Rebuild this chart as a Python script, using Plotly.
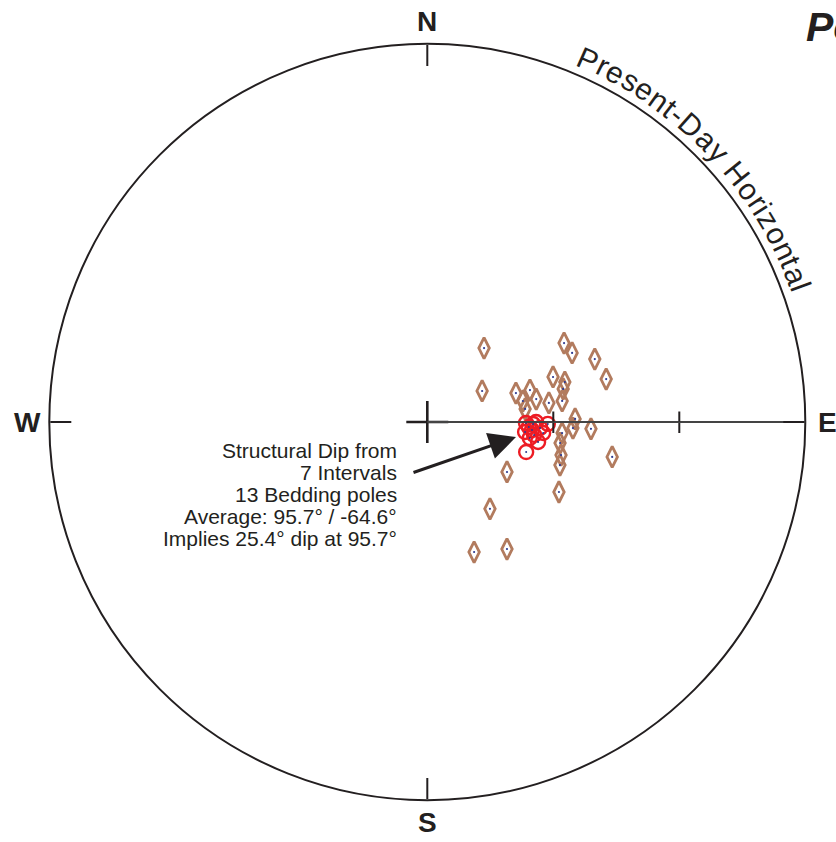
import math
import plotly.graph_objects as go

# ---------------- data ----------------
# Bedding poles (brown diamonds): azimuth (deg clockwise from N), inclination (deg, negative = up)
pole_az = [37.5, 60.5, 60.0, 64.5, 69.4, 76.5, 70.3, 73.8, 76.3, 81.1, 81.1, 71.9, 72.7,
           78.1, 77.6, 82.4, 88.8, 92.4, 92.4, 94.7, 99.0, 103.9, 108.0, 100.7, 122.1,
           118.0, 144.2, 160.2, 147.9]
pole_inc = [-67.8, -75.0, -52.4, -51.8, -47.4, -46.2, -58.2, -55.9, -56.7, -57.5, -60.7,
            -67.8, -64.4, -63.5, -66.7, -66.5, -54.8, -55.3, -51.0, -57.8, -58.0, -57.2,
            -56.8, -45.2, -67.6, -54.5, -64.5, -57.1, -54.3]

# Structural dip interval poles (red circles)
interval_az = [90.6, 90.0, 90.9, 95.8, 94.4, 93.0, 98.9, 100.2, 106.9, 96.9, 92.8, 95.4, 91.1]
interval_inc = [-66.5, -64.1, -61.3, -66.6, -65.0, -63.1, -65.3, -63.2, -65.4, -64.4, -65.8,
                -62.3, -64.8]

compass_labels = ["N", "E", "S", "W"]
compass_az = [0, 90, 180, 270]
radial_ticks = [30, 60]

note_lines = ["Structural Dip from", "7 Intervals", "13 Bedding poles",
              "Average: 95.7\u00b0 / -64.6\u00b0", "Implies 25.4\u00b0 dip at 95.7\u00b0"]
arc_label = "Present-Day Horizontal"
title_text = "Poles"

# ---------------- geometry ----------------
W, H = 836, 842
CX, CY, R = 427.3, 422.0, 378.0
FONT = "Liberation Sans, Arial, Helvetica, sans-serif"
INK = "#231f20"


def px(x):
    return x / W


def py(y):
    return 1 - y / H


def colat(inc):
    return [90 - abs(v) for v in inc]


DIAMOND = "#b27b5e"
RED = "#ed1c24"
DOT = "#2b3990"

fig = go.Figure()

# centre cross
fig.add_trace(go.Scatterpolar(r=[0], theta=[0], mode="markers", subplot="polar",
                              marker=dict(symbol="cross-thin-open", size=30, color=INK,
                                          line=dict(color=INK, width=2.6)),
                              hoverinfo="skip", showlegend=False))
# bedding poles
fig.add_trace(go.Scatterpolar(r=colat(pole_inc), theta=pole_az, mode="markers", subplot="polar",
                              marker=dict(symbol="diamond-tall-open", size=15, color=DIAMOND,
                                          line=dict(color=DIAMOND, width=2.8)),
                              showlegend=False))
fig.add_trace(go.Scatterpolar(r=colat(pole_inc), theta=pole_az, mode="markers", subplot="polar",
                              marker=dict(symbol="circle", size=2.2, color=DOT,
                                          line=dict(width=0)),
                              hoverinfo="skip", showlegend=False))
# interval poles
fig.add_trace(go.Scatterpolar(r=colat(interval_inc), theta=interval_az, mode="markers",
                              subplot="polar",
                              marker=dict(symbol="circle-open", size=14, color=RED,
                                          line=dict(color=RED, width=2.4)),
                              showlegend=False))
fig.add_trace(go.Scatterpolar(r=colat(interval_inc), theta=interval_az, mode="markers",
                              subplot="polar",
                              marker=dict(symbol="circle", size=2, color=DOT,
                                          line=dict(width=0)),
                              hoverinfo="skip", showlegend=False))
# dummy on second polar (ticks on the other side of the E axis)
fig.add_trace(go.Scatterpolar(r=[0], theta=[0], mode="markers", subplot="polar2",
                              marker=dict(size=1, color="rgba(0,0,0,0)"),
                              hoverinfo="skip", showlegend=False))

dom_x = [px(CX - R), px(CX + R)]
dom_y = [py(CY + R), py(CY - R)]

radial_common = dict(range=[0, 90], angle=0, showgrid=False, tickvals=radial_ticks,
                     ticks="outside", ticklen=10, tickwidth=2, tickcolor=INK,
                     showticklabels=False)

fig.update_layout(
    width=W, height=H, margin=dict(l=0, r=0, t=0, b=0),
    paper_bgcolor="white", plot_bgcolor="white", showlegend=False,
    polar=dict(
        domain=dict(x=dom_x, y=dom_y), bgcolor="white",
        angularaxis=dict(rotation=90, direction="clockwise", showgrid=False,
                         showline=True, linecolor=INK, linewidth=2,
                         tickvals=compass_az, ticks="inside", ticklen=21, tickwidth=2,
                         tickcolor=INK, showticklabels=False),
        radialaxis=dict(showline=True, linecolor="#444444", linewidth=2, side="clockwise",
                        **radial_common),
    ),
    polar2=dict(
        domain=dict(x=dom_x, y=dom_y), bgcolor="rgba(0,0,0,0)",
        angularaxis=dict(rotation=90, direction="clockwise", visible=False),
        radialaxis=dict(showline=False, side="counterclockwise", **radial_common),
    ),
)

ann = []
# compass letters
for lab, az in zip(compass_labels, compass_az):
    rr = 400
    x = CX + rr * math.sin(math.radians(az))
    y = CY - rr * math.cos(math.radians(az))
    ann.append(dict(x=px(x), y=py(y), xref="paper", yref="paper", text="<b>%s</b>" % lab,
                    showarrow=False, xanchor="center", yanchor="middle",
                    font=dict(family=FONT, size=28, color=INK)))

# curved label along the circle
cw = {"P": .667, "r": .333, "e": .556, "s": .5, "n": .556, "t": .278, "-": .333, "D": .722,
      "a": .556, "y": .5, " ": .278, "H": .722, "o": .556, "i": .222, "z": .5, "l": .222}
centres, acc = [], 0.0
for ch in arc_label:
    w = cw.get(ch, .55)
    centres.append(acc + w / 2)
    acc += w
th0, th1, RT = 23.9, 70.1, 397.0
for ch, c in zip(arc_label, centres):
    if ch == " ":
        continue
    th = th0 + (c - centres[0]) / (centres[-1] - centres[0]) * (th1 - th0)
    x = CX + RT * math.sin(math.radians(th))
    y = CY - RT * math.cos(math.radians(th))
    ann.append(dict(x=px(x), y=py(y), xref="paper", yref="paper", text=ch, textangle=th,
                    showarrow=False, xanchor="center", yanchor="middle",
                    font=dict(family=FONT, size=30, color=INK)))

# note text, right aligned
for i, line in enumerate(note_lines):
    base = 456.7 + 22 * i
    ann.append(dict(x=px(399), y=py(base - 6.5), xref="paper", yref="paper", text=line,
                    showarrow=False, xanchor="right", yanchor="middle", align="right",
                    font=dict(family=FONT, size=21, color=INK)))

# arrow to the cluster
head = (516, 437)
tail = (412, 473)
ann.append(dict(x=px(head[0]), y=py(head[1]), xref="paper", yref="paper", text="",
                showarrow=True, arrowhead=2, arrowsize=1.8, arrowwidth=3,
                arrowcolor=INK, ax=tail[0] - head[0], ay=tail[1] - head[1]))

# title (cut off at the right edge, as in the source)
ann.append(dict(x=px(804), y=py(27), xref="paper", yref="paper",
                text="<b><i>%s</i></b>" % title_text, showarrow=False,
                xanchor="left", yanchor="middle",
                font=dict(family=FONT, size=41, color=INK)))

fig.update_layout(annotations=ann)
fig.write_html("out.html")
